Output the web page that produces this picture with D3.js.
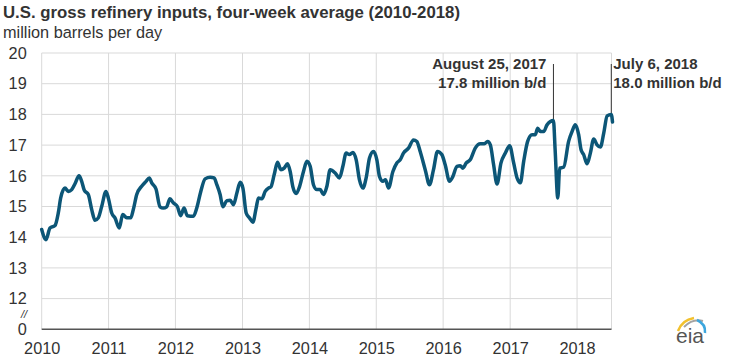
<!DOCTYPE html>
<html><head><meta charset="utf-8">
<script src="https://cdn.jsdelivr.net/npm/d3@7"></script>
<style>
body{margin:0;background:#fff;}
text{font-family:Arial,"Liberation Sans",Helvetica,sans-serif;}
</style>
</head><body>
<svg id="c" width="750" height="358"></svg>
<script>
const titleText = "U.S. gross refinery inputs, four-week average (2010-2018)";
const subtitleText = "million barrels per day";
const yTickValues = [11, 12, 13, 14, 15, 16, 17, 18, 19, 20];
const yTickLabels = ["0", "12", "13", "14", "15", "16", "17", "18", "19", "20"];
const xTickYears = [2010, 2011, 2012, 2013, 2014, 2015, 2016, 2017, 2018];

// week dates as decimal years
const years = [
  2010.000, 2010.064, 2010.124, 2010.199, 2010.248, 2010.284, 2010.348, 2010.398, 2010.449, 2010.498, 2010.558, 2010.598, 2010.637, 2010.697, 2010.748, 2010.797, 2010.846, 2010.897, 2010.961, 2010.996,
  2011.047, 2011.096, 2011.160, 2011.211, 2011.271, 2011.331, 2011.370, 2011.421, 2011.495, 2011.560, 2011.609, 2011.645, 2011.709, 2011.769, 2011.818, 2011.869, 2011.918, 2011.968,
  2012.028, 2012.079, 2012.128, 2012.177, 2012.267, 2012.318, 2012.378, 2012.442, 2012.517, 2012.576, 2012.617, 2012.666, 2012.707, 2012.766, 2012.816, 2012.865, 2012.916, 2012.965,
  2013.006, 2013.055, 2013.104, 2013.155, 2013.204, 2013.239, 2013.290, 2013.339, 2013.388, 2013.424, 2013.474, 2013.523, 2013.574, 2013.623, 2013.673, 2013.713, 2013.753, 2013.803, 2013.852, 2013.912, 2013.963,
  2014.012, 2014.061, 2014.112, 2014.161, 2014.211, 2014.262, 2014.311, 2014.386, 2014.450, 2014.501, 2014.550, 2014.600, 2014.650, 2014.700, 2014.749, 2014.800, 2014.849, 2014.899, 2014.958,
  2015.009, 2015.048, 2015.099, 2015.138, 2015.183, 2015.249, 2015.308, 2015.358, 2015.407, 2015.482, 2015.557, 2015.607, 2015.657, 2015.732, 2015.796, 2015.856, 2015.915, 2015.981,
  2016.031, 2016.095, 2016.146, 2016.206, 2016.255, 2016.295, 2016.345, 2016.404, 2016.479, 2016.554, 2016.614, 2016.663, 2016.704, 2016.753, 2016.804, 2016.863, 2016.928, 2016.992,
  2017.052, 2017.103, 2017.152, 2017.202, 2017.261, 2017.327, 2017.376, 2017.411, 2017.451, 2017.501, 2017.551, 2017.647, 2017.672, 2017.712, 2017.740, 2017.800, 2017.874, 2017.925, 2017.974,
  2018.024, 2018.060, 2018.099, 2018.150, 2018.199, 2018.249, 2018.299, 2018.349, 2018.399, 2018.450, 2018.512, 2018.530
];
// million barrels per day
const inputs = [
  14.25, 13.92, 14.30, 14.38, 14.79, 15.28, 15.60, 15.49, 15.55, 15.74, 16.00, 15.82, 15.53, 15.39, 14.90, 14.55, 14.63, 15.00, 15.49, 15.28,
  14.79, 14.63, 14.30, 14.74, 14.63, 14.63, 14.90, 15.39, 15.66, 15.82, 15.93, 15.77, 15.57, 14.99, 14.95, 14.99, 15.25, 15.12,
  15.00, 14.70, 14.95, 14.70, 14.68, 14.95, 15.49, 15.90, 15.95, 15.93, 15.71, 15.39, 14.99, 15.19, 15.20, 15.06, 15.44, 15.79,
  15.60, 14.79, 14.63, 14.49, 14.95, 15.28, 15.25, 15.49, 15.60, 15.64, 16.04, 16.44, 16.20, 16.25, 16.39, 16.14, 15.64, 15.42, 15.64, 16.14, 16.47,
  16.31, 15.71, 15.55, 15.55, 15.39, 15.66, 16.20, 16.09, 15.93, 16.31, 16.74, 16.69, 16.76, 16.52, 15.87, 15.60, 15.93, 16.58, 16.79,
  16.52, 15.98, 15.82, 15.87, 15.60, 16.14, 16.42, 16.52, 16.74, 16.90, 17.17, 17.12, 16.79, 16.20, 15.71, 16.20, 16.79, 16.69,
  16.36, 15.82, 15.98, 16.31, 16.33, 16.25, 16.42, 16.52, 16.90, 17.04, 17.04, 17.12, 17.01, 16.36, 15.73, 16.42, 16.74, 16.98,
  16.42, 15.93, 15.77, 16.47, 17.12, 17.34, 17.34, 17.55, 17.44, 17.44, 17.66, 17.80, 16.85, 15.28, 16.25, 16.28, 17.12, 17.44, 17.66,
  17.34, 16.85, 16.69, 16.39, 16.74, 17.20, 17.01, 16.94, 17.39, 17.95, 18.00, 17.75
];

const annDates = [2017.647, 2018.512];
const annValues = [17.8, 18.0];
const annLine1 = ["August 25, 2017", "July 6, 2018"];
const annLine2 = ["17.8 million b/d", "18.0 million b/d"];
const annSide = ["left", "right"];

function toDate(d) {
  const yr = Math.floor(d);
  const s = Date.UTC(yr, 0, 1), e = Date.UTC(yr + 1, 0, 1);
  return new Date(s + (d - yr) * (e - s));
}

const svg = d3.select("#c");
const plotL = 41.7, plotR = 611.5, plotT = 53, plotB = 329.3;

const x = d3.scaleUtc()
  .domain([new Date(Date.UTC(2010, 0, 1)), new Date(Date.UTC(2018, 6, 8))])
  .range([plotL, plotR]);
const y = d3.scaleLinear().domain([11, 20]).range([plotB, plotT]);

// title
svg.append("text").attr("x", 3).attr("y", 18).attr("font-size", 16.8).attr("font-weight", "bold")
  .attr("fill", "#333").text(titleText);
svg.append("text").attr("x", 3).attr("y", 38).attr("font-size", 16.3)
  .attr("fill", "#333").text(subtitleText);

// grid
const grid = svg.append("g");
grid.selectAll("line.h").data(yTickValues.filter(v => v > 11)).enter().append("line")
  .attr("x1", plotL).attr("x2", plotR).attr("y1", d => y(d)).attr("y2", d => y(d))
  .attr("stroke", "#d9d9d9").attr("stroke-width", 1);
grid.selectAll("line.v").data(xTickYears.map(v => toDate(v)).concat([x.domain()[1]])).enter().append("line")
  .attr("x1", d => x(d)).attr("x2", d => x(d)).attr("y1", plotT).attr("y2", plotB)
  .attr("stroke", "#d9d9d9").attr("stroke-width", 1);

// axis baseline
svg.append("line").attr("x1", plotL).attr("x2", plotR).attr("y1", plotB).attr("y2", plotB)
  .attr("stroke", "#555").attr("stroke-width", 1.5);

// y axis
const yAxis = d3.axisLeft(y).tickValues(yTickValues)
  .tickFormat((d, i) => yTickLabels[i]).tickSize(0).tickPadding(15);
const gy = svg.append("g").attr("transform", `translate(${plotL},0)`).call(yAxis);
gy.select(".domain").remove();
gy.selectAll("text").attr("font-size", 16.3).attr("fill", "#333")
  .attr("font-family", "Arial, 'Liberation Sans', sans-serif");

// axis break
svg.append("text").attr("x", 24).attr("y", 318).attr("text-anchor", "middle")
  .attr("font-size", 11).attr("font-style", "italic").attr("fill", "#333").text("//");

// x axis
const xAxis = d3.axisBottom(x).tickValues(xTickYears.map(v => toDate(v)))
  .tickFormat(d3.utcFormat("%Y")).tickSize(0).tickPadding(13);
const gx = svg.append("g").attr("transform", `translate(0,${plotB})`).call(xAxis);
gx.select(".domain").remove();
gx.selectAll("text").attr("font-size", 16.3).attr("fill", "#333")
  .attr("font-family", "Arial, 'Liberation Sans', sans-serif");

// annotations
annDates.forEach((d, i) => {
  const ax = x(toDate(d));
  svg.append("line").attr("x1", ax).attr("x2", ax).attr("y1", 64).attr("y2", y(annValues[i]))
    .attr("stroke", "#333").attr("stroke-width", 1);
  const tx = annSide[i] === "left" ? ax - 7 : ax + 2;
  const anchor = annSide[i] === "left" ? "end" : "start";
  svg.append("text").attr("x", tx).attr("y", 68.5).attr("text-anchor", anchor)
    .attr("font-size", 15).attr("font-weight", "bold").attr("fill", "#333").text(annLine1[i]);
  svg.append("text").attr("x", tx).attr("y", 87.5).attr("text-anchor", anchor)
    .attr("font-size", 15).attr("font-weight", "bold").attr("fill", "#333").text(annLine2[i]);
});

// series line
const data = years.map((d, i) => ({ date: toDate(d), value: inputs[i] }));
const line = d3.line().x(d => x(d.date)).y(d => y(d.value)).curve(d3.curveMonotoneX);
svg.append("path").datum(data).attr("d", line).attr("fill", "none")
  .attr("stroke", "#0c5677").attr("stroke-width", 3.5).attr("stroke-linejoin", "round").attr("stroke-linecap", "round");

// eia logo
const logo = svg.append("g");
logo.append("path").attr("d", "M678,331 Q682,320 694,318").attr("fill", "none").attr("stroke", "#f2c12e").attr("stroke-width", 2.5);
logo.append("path").attr("d", "M684,327 Q693,318 703,321").attr("fill", "none").attr("stroke", "#a3a3a3").attr("stroke-width", 2);
logo.append("path").attr("d", "M697,320 Q706,324 705,333").attr("fill", "none").attr("stroke", "#3ca6dd").attr("stroke-width", 2.5);
logo.append("text").attr("x", 676).attr("y", 343).attr("font-family", "'Liberation Serif', 'DejaVu Serif', serif")
  .attr("font-size", 21).attr("fill", "#555").text("eia");
</script>
</body></html>
